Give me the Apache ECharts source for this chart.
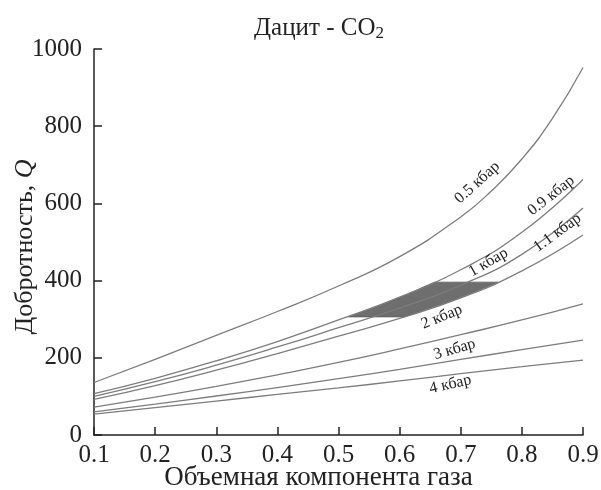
<!DOCTYPE html>
<html>
<head>
<meta charset="utf-8">
<script src="https://cdn.jsdelivr.net/npm/echarts@6/dist/echarts.min.js"></script>
<style>
  html, body { margin: 0; padding: 0; background: #fff; }
  #chart { width: 601px; height: 490px; }
</style>
</head>
<body>
<div id="chart"></div>
<script>
// gas volume fraction and Q for each pressure curve
const gasFraction = [0.1, 0.2, 0.3, 0.4, 0.5, 0.6, 0.7, 0.8, 0.9]
const q09 = [107, 147, 192, 242, 298, 357, 428, 525, 662]
const q10 = [100, 138, 181, 228, 278, 329, 388, 468, 588]
const q11 = [92, 128, 168, 211, 256, 302, 355, 425, 518]
const q20 = [72, 98, 126, 156, 188, 223, 260, 298, 340]
const q30 = [60, 80, 101, 123, 146, 170, 196, 221, 246]
const q40 = [54, 71, 88, 105, 122, 140, 159, 177, 194]

// 0.5 kbar curve read more densely near the steep end
const gasFraction05 = [0.1, 0.2, 0.3, 0.4, 0.5, 0.6, 0.7, 0.75, 0.8, 0.85, 0.9]
const q05 = [136, 196, 258, 320, 386, 462, 565, 632, 715, 820, 952]

// curve labels
const labelText = ['0.5 кбар', '0.9 кбар', '1 кбар', '1.1 кбар', '2 кбар', '3 кбар', '4 кбар']
const labelX = [0.727, 0.848, 0.745, 0.858, 0.669, 0.690, 0.683]
const labelQ = [654, 620, 447, 524, 306, 222, 131]
const labelAngle = [42, 38, 30, 36, 22, 16, 13]

// shaded region between 0.9 and 1.1 kbar curves, Q 306..396
const regionX = [0.516, 0.56, 0.6, 0.657, 0.761, 0.72, 0.68, 0.64, 0.608]
const regionQ = [306, 331, 356, 396, 396, 369, 345, 324, 306]

const xTicks = ['0.1', '0.2', '0.3', '0.4', '0.5', '0.6', '0.7', '0.8', '0.9']

const font = 'Liberation Serif'
const lineColor = '#7d7d7d'

const chart = echarts.init(document.getElementById('chart'))

const curveX = [gasFraction05, gasFraction, gasFraction, gasFraction, gasFraction, gasFraction, gasFraction]
const curves = [q05, q09, q10, q11, q20, q30, q40]

const lineSeries = curves.map((vals, i) => ({
  name: labelText[i],
  type: 'line',
  smooth: 0.5,
  showSymbol: false,
  silent: true,
  lineStyle: { color: lineColor, width: 1.3 },
  data: curveX[i].map((x, j) => [x, vals[j]])
}))

const option = {
  animation: false,
  title: {
    text: '{a|Дацит - CO}{s|2}',
    left: 314,
    textAlign: 'center',
    top: 10,
    textStyle: {
      rich: {
        a: { fontFamily: font, fontSize: 25, fontWeight: 'normal', color: '#222' },
        s: { fontFamily: font, fontSize: 17, fontWeight: 'normal', color: '#222', verticalAlign: 'bottom', padding: [10, 0, 0, 0] }
      }
    }
  },
  grid: { left: 94, right: 18, top: 49, bottom: 55, outerBoundsMode: 'none' },
  xAxis: {
    type: 'value',
    min: 0.1,
    max: 0.9,
    interval: 0.1,
    name: 'Объемная компонента газа',
    nameLocation: 'middle',
    nameGap: 29,
    nameMoveOverlap: false,
    nameTextStyle: { fontFamily: font, fontSize: 27, color: '#222', padding: [0, 40, 0, 0] },
    axisLine: { lineStyle: { color: '#222', width: 1.5 } },
    axisTick: { inside: true, length: 8, lineStyle: { color: '#222', width: 1.5 } },
    axisLabel: {
      fontFamily: font, fontSize: 25, color: '#222', margin: 8,
      formatter: v => xTicks[Math.round((v - 0.1) * 10)]
    },
    splitLine: { show: false }
  },
  yAxis: {
    type: 'value',
    min: 0,
    max: 1000,
    interval: 200,
    name: '{n|Добротность, }{q|Q}',
    nameLocation: 'middle',
    nameRotate: 90,
    nameGap: 56,
    nameMoveOverlap: false,
    nameTextStyle: {
      padding: [0, 10, 0, 0],
      rich: {
        n: { fontFamily: font, fontSize: 26, color: '#222' },
        q: { fontFamily: font, fontSize: 26, color: '#222', fontStyle: 'italic' }
      }
    },
    axisLine: { show: true, lineStyle: { color: '#222', width: 1.5 } },
    axisTick: { show: true, inside: true, length: 8, lineStyle: { color: '#222', width: 1.5 } },
    axisLabel: { fontFamily: font, fontSize: 25, color: '#222', margin: 12, formatter: v => String(v) },
    splitLine: { show: false }
  },
  series: lineSeries.concat([
    {
      type: 'custom',
      silent: true,
      z: 3,
      data: [[regionX[0], regionQ[0]]],
      renderItem: (params, api) => {
        const pts = regionX.map((x, i) => api.coord([x, regionQ[i]]))
        return {
          type: 'polygon',
          shape: { points: pts },
          style: { fill: '#6e6e6e', stroke: '#5e5e5e', lineWidth: 0.8 }
        }
      }
    },
    {
      type: 'custom',
      silent: true,
      z: 4,
      data: labelText.map((t, i) => [labelX[i], labelQ[i], i]),
      renderItem: (params, api) => {
        const i = api.value(2)
        const p = api.coord([api.value(0), api.value(1)])
        return {
          type: 'text',
          x: p[0],
          y: p[1],
          rotation: labelAngle[i] * Math.PI / 180,
          style: {
            text: labelText[i],
            font: '16px "' + font + '"',
            fill: '#222',
            align: 'center',
            verticalAlign: 'middle'
          }
        }
      }
    }
  ])
}

chart.setOption(option)
</script>
</body>
</html>
